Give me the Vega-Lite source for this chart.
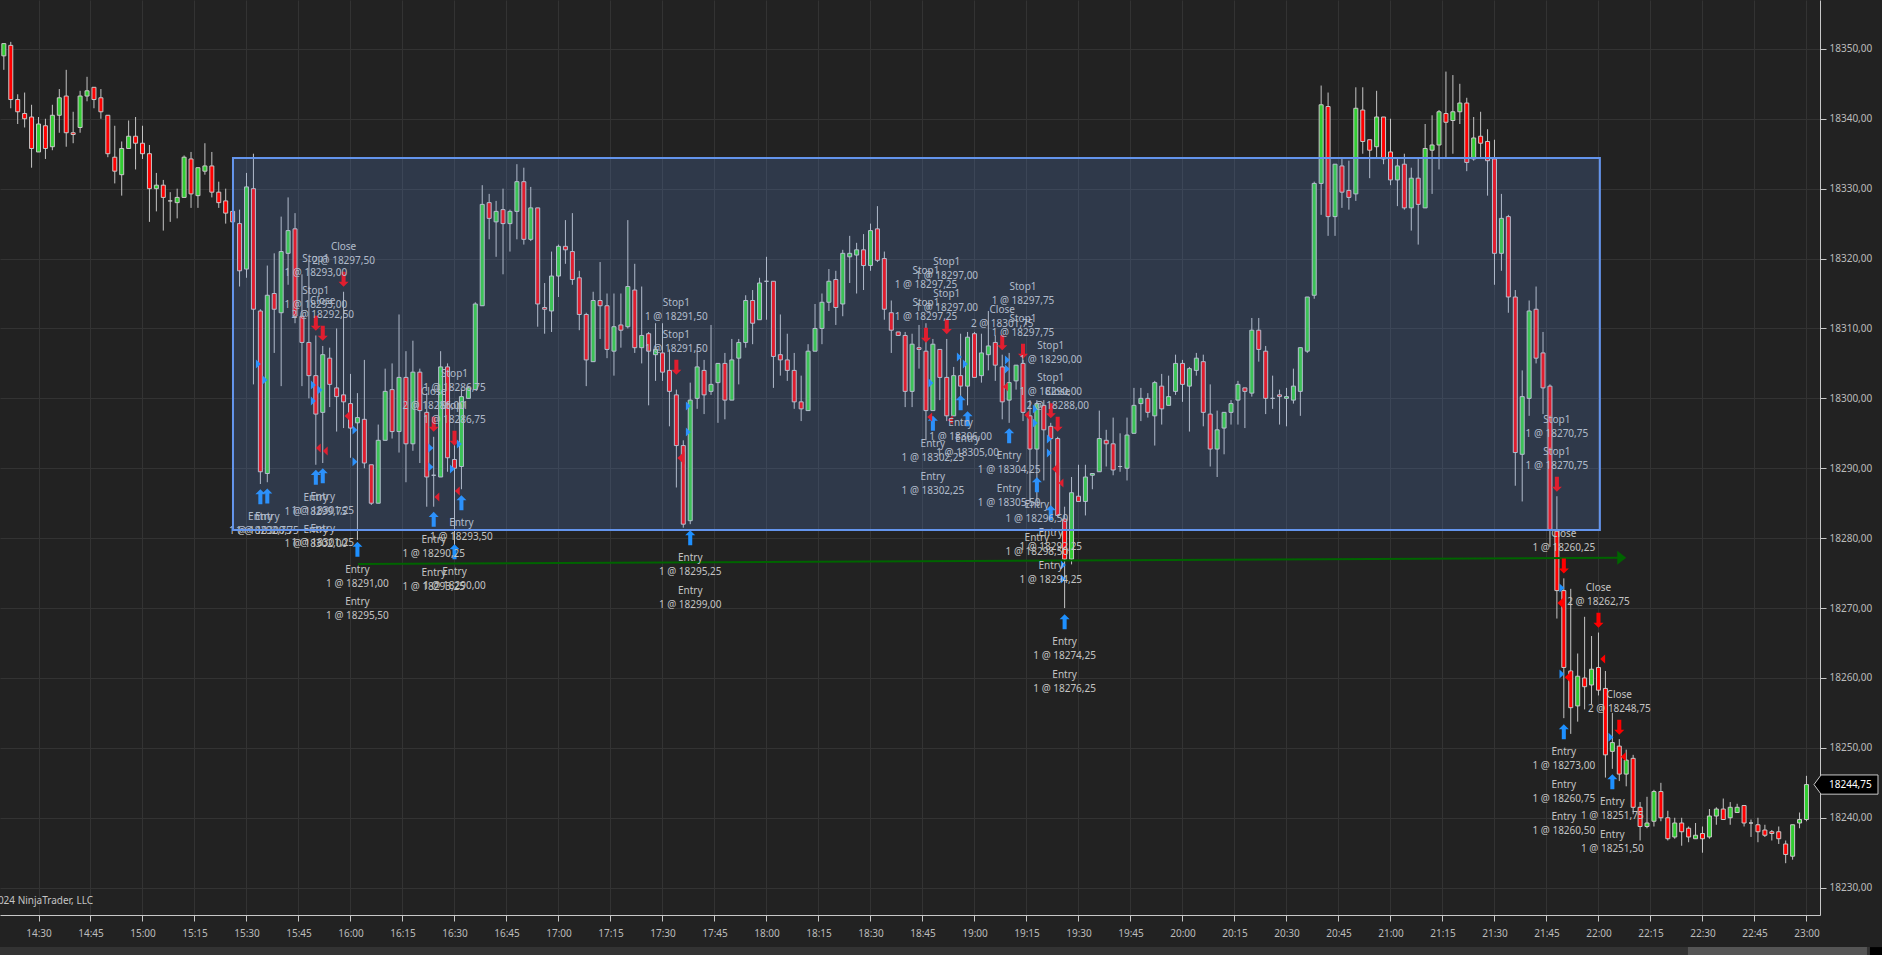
{"$schema":"https://vega.github.io/schema/vega-lite/v6.json","width":1820,"height":915,"autosize":{"type":"none"},"padding":{"left":0,"top":0,"right":62,"bottom":40},"background":"#222222","view":{"stroke":null},
"data":{"values":[
{"t":860,"o":18349,"h":18350.75,"l":18347,"c":18350.75},{"t":862,"o":18350.5,"h":18351,"l":18341.5,"c":18342.75},{"t":864,"o":18342.75,"h":18343.5,"l":18339.25,"c":18341},{"t":866,"o":18340.75,"h":18343.75,"l":18338.75,"c":18340},{"t":868,"o":18340.25,"h":18342,"l":18333,"c":18335.75},{"t":870,"o":18335.25,"h":18340.25,"l":18335.25,"c":18339.25},{"t":872,"o":18339,"h":18340,"l":18334.25,"c":18335.75},{"t":874,"o":18336,"h":18342,"l":18335.5,"c":18340.5},{"t":876,"o":18340.5,"h":18344.25,"l":18338,"c":18343},{"t":878,"o":18343.25,"h":18347,"l":18336,"c":18338},{"t":880,"o":18338,"h":18341,"l":18336.5,"c":18337.75},{"t":882,"o":18338.75,"h":18344,"l":18338,"c":18343.25},{"t":884,"o":18343.25,"h":18346,"l":18342.5,"c":18344},{"t":886,"o":18344.5,"h":18344.5,"l":18341.5,"c":18342.75},{"t":888,"o":18343,"h":18344.25,"l":18340,"c":18341},{"t":890,"o":18340.5,"h":18340.5,"l":18334.5,"c":18335},{"t":892,"o":18334.5,"h":18339,"l":18330.75,"c":18332.5},{"t":894,"o":18332,"h":18336.75,"l":18329,"c":18335.75},{"t":896,"o":18335.75,"h":18339.75,"l":18335.75,"c":18337.5},{"t":898,"o":18337.5,"h":18340.25,"l":18332.75,"c":18336.5},{"t":900,"o":18336.5,"h":18339,"l":18334.25,"c":18335},{"t":902,"o":18335,"h":18336.25,"l":18325.25,"c":18330},{"t":904,"o":18330,"h":18332.25,"l":18326.75,"c":18330.5},{"t":906,"o":18330.5,"h":18331.25,"l":18324,"c":18328.75},{"t":908,"o":18328.25,"h":18329.5,"l":18325.25,"c":18328.25},{"t":910,"o":18328,"h":18330,"l":18325.75,"c":18328.75},{"t":912,"o":18328.75,"h":18334.75,"l":18328.75,"c":18334.5},{"t":914,"o":18334.25,"h":18335.25,"l":18327.25,"c":18329.25},{"t":916,"o":18329,"h":18333,"l":18327.25,"c":18333},{"t":918,"o":18332.5,"h":18336.5,"l":18332,"c":18333.25},{"t":920,"o":18333.25,"h":18335.25,"l":18328.75,"c":18329.5},{"t":922,"o":18329.5,"h":18331,"l":18327.25,"c":18328},{"t":924,"o":18328.25,"h":18330,"l":18325,"c":18326.5},{"t":926,"o":18326.75,"h":18326.75,"l":18325.25,"c":18325.25},{"t":928,"o":18325,"h":18327,"l":18316,"c":18318.25},{"t":930,"o":18318.5,"h":18332.25,"l":18317.25,"c":18330.25},
{"t":932,"o":18330,"h":18335,"l":18302,"c":18312.75},{"t":934,"o":18312.5,"h":18312.75,"l":18287.75,"c":18289.5},{"t":936,"o":18289.25,"h":18319,"l":18288,"c":18314.75},{"t":938,"o":18315,"h":18320.75,"l":18306.5,"c":18312.75},{"t":940,"o":18312.25,"h":18326,"l":18301.75,"c":18321},{"t":942,"o":18320.75,"h":18328.75,"l":18316.25,"c":18324},{"t":944,"o":18324.25,"h":18326.5,"l":18310.75,"c":18311.75},{"t":946,"o":18311.75,"h":18317.75,"l":18301.75,"c":18308},{"t":948,"o":18308,"h":18319.75,"l":18300,"c":18303.25},{"t":950,"o":18303.25,"h":18309,"l":18290.5,"c":18297.75},{"t":952,"o":18298,"h":18307.5,"l":18290.75,"c":18306.25},{"t":954,"o":18305.75,"h":18307.25,"l":18298.75,"c":18302},{"t":956,"o":18301.5,"h":18310,"l":18295.25,"c":18300.25},{"t":958,"o":18300.5,"h":18315.25,"l":18295.75,"c":18299.5},{"t":960,"o":18299.25,"h":18303.5,"l":18291.5,"c":18295.75},{"t":962,"o":18296.5,"h":18300.75,"l":18279.75,"c":18297.25},{"t":964,"o":18297,"h":18305.5,"l":18290,"c":18290.75},{"t":966,"o":18290.5,"h":18290.5,"l":18284.75,"c":18285},{"t":968,"o":18285,"h":18296.25,"l":18285,"c":18294},{"t":970,"o":18294,"h":18304.25,"l":18294,"c":18301},{"t":972,"o":18301.25,"h":18305,"l":18294.25,"c":18295.25},{"t":974,"o":18295.25,"h":18312,"l":18292.25,"c":18303},{"t":976,"o":18303,"h":18306.75,"l":18288,"c":18293.5},{"t":978,"o":18293.5,"h":18308.25,"l":18292.5,"c":18303.75},{"t":980,"o":18303.75,"h":18304.25,"l":18290.75,"c":18298.25},{"t":982,"o":18298,"h":18300.75,"l":18284.5,"c":18288.75},{"t":984,"o":18289,"h":18294.5,"l":18284.5,"c":18289},{"t":986,"o":18288.75,"h":18306.75,"l":18288.75,"c":18304.5},{"t":988,"o":18304.5,"h":18305,"l":18289.5,"c":18291.5},{"t":990,"o":18291.25,"h":18294.5,"l":18277.25,"c":18290},{"t":992,"o":18290.25,"h":18301.25,"l":18287,"c":18300.25},{"t":994,"o":18300,"h":18301.75,"l":18300,"c":18301.5},{"t":996,"o":18301.25,"h":18313.75,"l":18301.25,"c":18313.5},
{"t":998,"o":18313.25,"h":18330.5,"l":18313.25,"c":18327.75},{"t":1000,"o":18328,"h":18329.25,"l":18322.75,"c":18325.75},{"t":1002,"o":18325.25,"h":18328.25,"l":18320.25,"c":18326.75},{"t":1004,"o":18327,"h":18330,"l":18317.75,"c":18325},{"t":1006,"o":18325,"h":18327,"l":18321,"c":18326.75},{"t":1008,"o":18326.75,"h":18333.5,"l":18322.75,"c":18331},{"t":1010,"o":18331,"h":18333,"l":18322,"c":18322.75},{"t":1012,"o":18322.75,"h":18330.25,"l":18322.5,"c":18327.25},{"t":1014,"o":18327.25,"h":18327.25,"l":18310.25,"c":18313.5},{"t":1016,"o":18313,"h":18316.5,"l":18309.25,"c":18312.75},{"t":1018,"o":18312.5,"h":18321,"l":18309.5,"c":18317.5},{"t":1020,"o":18317.5,"h":18322,"l":18314.5,"c":18321.75},{"t":1022,"o":18321.75,"h":18325.5,"l":18319.25,"c":18321.25},{"t":1024,"o":18321,"h":18326.5,"l":18316.25,"c":18317},{"t":1026,"o":18317.25,"h":18318.25,"l":18309.75,"c":18312},{"t":1028,"o":18312,"h":18312.25,"l":18301.75,"c":18305.5},{"t":1030,"o":18305.25,"h":18315.25,"l":18305.25,"c":18314},{"t":1032,"o":18314,"h":18319.5,"l":18308.5,"c":18313.25},{"t":1034,"o":18313.25,"h":18315,"l":18305.75,"c":18307},{"t":1036,"o":18306.75,"h":18315,"l":18303.25,"c":18310.25},{"t":1038,"o":18310.5,"h":18315,"l":18307.25,"c":18309.75},{"t":1040,"o":18310.25,"h":18325.5,"l":18310,"c":18316},{"t":1042,"o":18315.5,"h":18319.25,"l":18306.5,"c":18307.25},{"t":1044,"o":18307.25,"h":18316,"l":18305,"c":18309},{"t":1046,"o":18309.25,"h":18309.5,"l":18299,"c":18306.75},{"t":1048,"o":18306.25,"h":18310.75,"l":18302.5,"c":18307},{"t":1050,"o":18306.5,"h":18310.75,"l":18302.5,"c":18303.75},{"t":1052,"o":18304,"h":18307,"l":18296,"c":18301},{"t":1054,"o":18300.5,"h":18301.25,"l":18287.25,"c":18293.25},
{"t":1056,"o":18293.25,"h":18294,"l":18281.5,"c":18282},{"t":1058,"o":18282.5,"h":18302.25,"l":18282,"c":18299.75},{"t":1060,"o":18300,"h":18307.75,"l":18298.5,"c":18304.5},{"t":1062,"o":18304,"h":18305.5,"l":18297.75,"c":18300.5},{"t":1064,"o":18301,"h":18310.5,"l":18300.5,"c":18302},{"t":1066,"o":18302.25,"h":18305,"l":18296.5,"c":18305},{"t":1068,"o":18305,"h":18306.5,"l":18297,"c":18299.75},{"t":1070,"o":18299.75,"h":18308.5,"l":18299.75,"c":18305.5},{"t":1072,"o":18305.75,"h":18308.5,"l":18302,"c":18308},{"t":1074,"o":18308,"h":18314.75,"l":18307.25,"c":18314},{"t":1076,"o":18314,"h":18315.5,"l":18307.75,"c":18310.75},{"t":1078,"o":18311.25,"h":18317.25,"l":18311.25,"c":18316.5},{"t":1080,"o":18316.75,"h":18320.25,"l":18311.25,"c":18316.75},{"t":1082,"o":18316.75,"h":18316.75,"l":18301.5,"c":18306},{"t":1084,"o":18306.25,"h":18312,"l":18303.25,"c":18305.5},{"t":1086,"o":18305.5,"h":18309.25,"l":18302.5,"c":18304},{"t":1088,"o":18304,"h":18306.5,"l":18298.5,"c":18299.5},{"t":1090,"o":18299.5,"h":18303.25,"l":18296.75,"c":18298.5},{"t":1092,"o":18298.25,"h":18307.75,"l":18298.25,"c":18306.75},{"t":1094,"o":18306.75,"h":18313.5,"l":18306.75,"c":18310},{"t":1096,"o":18310,"h":18315,"l":18307.75,"c":18313.75},{"t":1098,"o":18313.75,"h":18318.5,"l":18312.5,"c":18316.75},{"t":1100,"o":18317,"h":18318.25,"l":18310.5,"c":18313},{"t":1102,"o":18313.5,"h":18321.25,"l":18311.75,"c":18320.75},{"t":1104,"o":18320.25,"h":18323.25,"l":18316.5,"c":18320.75},{"t":1106,"o":18320.5,"h":18322.25,"l":18315,"c":18321.25},{"t":1108,"o":18321.25,"h":18323.5,"l":18315.5,"c":18319},{"t":1110,"o":18319,"h":18325,"l":18318.25,"c":18324},{"t":1112,"o":18324.25,"h":18327.5,"l":18319.5,"c":18319.75},{"t":1114,"o":18320,"h":18321,"l":18311.25,"c":18312.75},{"t":1116,"o":18312.25,"h":18314,"l":18306.5,"c":18309.75},{"t":1118,"o":18309.5,"h":18309.5,"l":18309,"c":18309},{"t":1120,"o":18309,"h":18309.5,"l":18298.75,"c":18301},{"t":1122,"o":18301,"h":18309.25,"l":18298.75,"c":18307.75},{"t":1124,"o":18307.25,"h":18310.5,"l":18304.25,"c":18307},{"t":1126,"o":18306.75,"h":18310.75,"l":18294,"c":18298.25},{"t":1128,"o":18298.25,"h":18308.5,"l":18298.25,"c":18307.75},{"t":1130,"o":18307,"h":18307,"l":18299.75,"c":18303},{"t":1132,"o":18303,"h":18308.5,"l":18296.75,"c":18297.5},{"t":1134,"o":18297.5,"h":18304.5,"l":18297.5,"c":18303.25},{"t":1136,"o":18303.25,"h":18309.25,"l":18299.75,"c":18301.75},{"t":1138,"o":18301.75,"h":18309.5,"l":18299,"c":18308.75},{"t":1140,"o":18309.25,"h":18309.5,"l":18303,"c":18303},{"t":1142,"o":18303.25,"h":18309.25,"l":18302.25,"c":18306.5},{"t":1144,"o":18306.25,"h":18312.5,"l":18304,"c":18307.5},{"t":1146,"o":18308,"h":18309,"l":18302.5,"c":18304.75},{"t":1148,"o":18304.5,"h":18306.25,"l":18297,"c":18299.5},{"t":1150,"o":18299.75,"h":18306.5,"l":18296.5,"c":18302.25},{"t":1152,"o":18302.5,"h":18304.75,"l":18301.25,"c":18304.75},{"t":1154,"o":18305,"h":18305.5,"l":18296.75,"c":18298},{"t":1156,"o":18297.5,"h":18299.75,"l":18285,"c":18292.75},{"t":1158,"o":18292.75,"h":18299.75,"l":18285.25,"c":18299.25},{"t":1160,"o":18299,"h":18299.75,"l":18288.25,"c":18295.5},{"t":1162,"o":18296,"h":18296.5,"l":18284.25,"c":18294.25},{"t":1164,"o":18294.25,"h":18294.5,"l":18283,"c":18283.25},{"t":1166,"o":18282.75,"h":18284.5,"l":18270,"c":18277},{"t":1168,"o":18277,"h":18288.75,"l":18276.25,"c":18286.5},{"t":1170,"o":18286,"h":18290.5,"l":18285.25,"c":18285.25},{"t":1172,"o":18285.25,"h":18290.5,"l":18283.25,"c":18288.75},{"t":1174,"o":18289,"h":18289.25,"l":18287,"c":18289.25},{"t":1176,"o":18289.5,"h":18298.25,"l":18289.5,"c":18294.25},{"t":1178,"o":18294,"h":18295.5,"l":18290.25,"c":18293.5},{"t":1180,"o":18293.5,"h":18297.25,"l":18289,"c":18289.75},{"t":1182,"o":18290.25,"h":18295,"l":18289.5,"c":18290.25},{"t":1184,"o":18290,"h":18297.25,"l":18288.25,"c":18294.75},{"t":1186,"o":18295,"h":18301.5,"l":18295,"c":18299},{"t":1188,"o":18299.25,"h":18301.5,"l":18296.75,"c":18300},{"t":1190,"o":18300,"h":18300.75,"l":18297.25,"c":18298},{"t":1192,"o":18297.5,"h":18302.5,"l":18293.25,"c":18302.25},
{"t":1194,"o":18301.75,"h":18303.5,"l":18296.25,"c":18298.5},{"t":1196,"o":18299,"h":18303.25,"l":18299,"c":18300.25},{"t":1198,"o":18301,"h":18306.25,"l":18300.5,"c":18305},{"t":1200,"o":18305,"h":18305.5,"l":18299.5,"c":18302},{"t":1202,"o":18301.75,"h":18304.5,"l":18295.25,"c":18304.25},{"t":1204,"o":18304,"h":18306.5,"l":18303.25,"c":18305.75},{"t":1206,"o":18305.25,"h":18306.25,"l":18296,"c":18298},{"t":1208,"o":18297.75,"h":18302,"l":18290.25,"c":18292.75},{"t":1210,"o":18292.75,"h":18298.25,"l":18288.75,"c":18295.5},{"t":1212,"o":18295.75,"h":18298,"l":18292,"c":18298},{"t":1214,"o":18298,"h":18299.75,"l":18296.25,"c":18299.25},{"t":1216,"o":18299.75,"h":18302.5,"l":18296.25,"c":18302},{"t":1218,"o":18301.5,"h":18301.5,"l":18295.75,"c":18301},{"t":1220,"o":18300.75,"h":18311.5,"l":18300.25,"c":18309.75},{"t":1222,"o":18309.75,"h":18311.5,"l":18305.25,"c":18307},{"t":1224,"o":18306.75,"h":18307.5,"l":18297.75,"c":18300},{"t":1226,"o":18300,"h":18303.25,"l":18298.5,"c":18300},{"t":1228,"o":18300.5,"h":18301.25,"l":18296.25,"c":18300.25},{"t":1230,"o":18300,"h":18301.5,"l":18296,"c":18300.25},{"t":1232,"o":18299.75,"h":18304.25,"l":18299.25,"c":18301.75},{"t":1234,"o":18301,"h":18307.25,"l":18297.5,"c":18307.25},{"t":1236,"o":18306.75,"h":18314.5,"l":18306.5,"c":18314.5},{"t":1238,"o":18314.75,"h":18331,"l":18314.25,"c":18330.75},{"t":1240,"o":18330.75,"h":18344.75,"l":18326.25,"c":18342},{"t":1242,"o":18341.75,"h":18343.75,"l":18323.25,"c":18326},{"t":1244,"o":18326,"h":18333.5,"l":18323.25,"c":18333.5},{"t":1246,"o":18333.25,"h":18334.25,"l":18327.25,"c":18329.5},{"t":1248,"o":18329.75,"h":18334,"l":18327,"c":18328.75},{"t":1250,"o":18329.25,"h":18344.5,"l":18328.25,"c":18341.5},{"t":1252,"o":18341.25,"h":18344.5,"l":18335,"c":18336.75},{"t":1254,"o":18337,"h":18337,"l":18331.5,"c":18335.5},{"t":1256,"o":18336,"h":18344,"l":18334.5,"c":18340.25},{"t":1258,"o":18340.25,"h":18340.25,"l":18333.5,"c":18334.25},{"t":1260,"o":18335.25,"h":18340,"l":18330.5,"c":18331.25},{"t":1262,"o":18331.25,"h":18334.25,"l":18327.5,"c":18333.25},{"t":1264,"o":18333.5,"h":18335,"l":18327,"c":18327.25},{"t":1266,"o":18327.25,"h":18333,"l":18324,"c":18331.5},{"t":1268,"o":18331.5,"h":18334.25,"l":18322,"c":18327.75},{"t":1270,"o":18327.25,"h":18339.25,"l":18327.25,"c":18335.75},{"t":1272,"o":18335.5,"h":18340.5,"l":18329.25,"c":18336.25},{"t":1274,"o":18336.25,"h":18341.25,"l":18332.75,"c":18341},{"t":1276,"o":18340.75,"h":18346.75,"l":18334.25,"c":18339.5},{"t":1278,"o":18339.75,"h":18346.25,"l":18335,"c":18341},{"t":1280,"o":18341,"h":18345,"l":18339.25,"c":18342.25},{"t":1282,"o":18342.25,"h":18343,"l":18332.5,"c":18333.75},{"t":1284,"o":18334.25,"h":18340.25,"l":18334,"c":18337.25},{"t":1286,"o":18337.5,"h":18341,"l":18334.25,"c":18336.5},{"t":1288,"o":18336.75,"h":18338.5,"l":18329,"c":18334},{"t":1290,"o":18334.25,"h":18337,"l":18316.25,"c":18320.75},{"t":1292,"o":18320.75,"h":18329.25,"l":18318.25,"c":18325.75},{"t":1294,"o":18326,"h":18326.25,"l":18312.25,"c":18314.5},{"t":1296,"o":18314.5,"h":18315.5,"l":18287.5,"c":18292.25},{"t":1298,"o":18292,"h":18304,"l":18285.25,"c":18300.25},{"t":1300,"o":18300,"h":18314,"l":18297.5,"c":18312.5},{"t":1302,"o":18312.75,"h":18316,"l":18305,"c":18305.75},{"t":1304,"o":18306.5,"h":18309.5,"l":18297.75,"c":18301.5},{"t":1306,"o":18301.75,"h":18302,"l":18278.75,"c":18281.25},
{"t":1308,"o":18281,"h":18286,"l":18268.5,"c":18272.5},{"t":1310,"o":18272.5,"h":18274.25,"l":18254.25,"c":18261.5},{"t":1312,"o":18261,"h":18272.75,"l":18252,"c":18255.75},{"t":1314,"o":18256,"h":18263.5,"l":18253.75,"c":18260.25},{"t":1316,"o":18260,"h":18268.75,"l":18255.5,"c":18258.75},{"t":1318,"o":18259,"h":18266,"l":18256.25,"c":18261.25},{"t":1320,"o":18261.5,"h":18266.5,"l":18257.5,"c":18258.25},{"t":1322,"o":18258.5,"h":18261,"l":18245.75,"c":18249},{"t":1324,"o":18249.5,"h":18255,"l":18247,"c":18250.75},{"t":1326,"o":18250.25,"h":18251.25,"l":18245.25,"c":18246.25},{"t":1328,"o":18246.25,"h":18249.75,"l":18244.5,"c":18248.25},{"t":1330,"o":18248.5,"h":18249,"l":18240.5,"c":18241.5},{"t":1332,"o":18241.5,"h":18242.25,"l":18236.75,"c":18238.75},{"t":1334,"o":18238.75,"h":18243,"l":18238.5,"c":18239.25},{"t":1336,"o":18239.5,"h":18244,"l":18238.75,"c":18243.75},{"t":1338,"o":18243.75,"h":18245,"l":18239.5,"c":18240},{"t":1340,"o":18240,"h":18241,"l":18236.75,"c":18237},{"t":1342,"o":18237.25,"h":18240,"l":18237,"c":18239.25},{"t":1344,"o":18239.25,"h":18240,"l":18236,"c":18238},{"t":1346,"o":18238.5,"h":18238.75,"l":18236.5,"c":18237.25},{"t":1348,"o":18237,"h":18239.25,"l":18237,"c":18237.5},{"t":1350,"o":18237.75,"h":18238.75,"l":18235,"c":18237},{"t":1352,"o":18237.25,"h":18241.25,"l":18237,"c":18240.25},{"t":1354,"o":18240.25,"h":18241.5,"l":18239,"c":18241.25},{"t":1356,"o":18241.25,"h":18242.75,"l":18239.75,"c":18239.75},{"t":1358,"o":18240,"h":18242.25,"l":18239,"c":18241.5},{"t":1360,"o":18240.75,"h":18242,"l":18240.75,"c":18241.5},{"t":1362,"o":18241.75,"h":18241.75,"l":18238.75,"c":18239.25},{"t":1364,"o":18239.25,"h":18239.75,"l":18237.25,"c":18239.25},{"t":1366,"o":18239,"h":18240,"l":18236.5,"c":18238},{"t":1368,"o":18238.25,"h":18239,"l":18237.25,"c":18237.5},{"t":1370,"o":18238,"h":18238.25,"l":18236.75,"c":18237.75},{"t":1372,"o":18238,"h":18238.75,"l":18236.25,"c":18237},{"t":1374,"o":18236.25,"h":18236.75,"l":18233.5,"c":18234.75},{"t":1376,"o":18234.5,"h":18239,"l":18234,"c":18239},{"t":1378,"o":18239.25,"h":18240.75,"l":18238.5,"c":18239.75},{"t":1380,"o":18239.75,"h":18246,"l":18239.5,"c":18244.75}
]},
"layer":[
{"mark":{"type":"rule","color":"#c4c4c4","strokeWidth":1},"encoding":{
"x":{"field":"t","type":"quantitative","title":null,"scale":{"domain":[858.894,1383.9],"zero":false,"nice":false,"padding":0},"axis":{"values":[870,885,900,915,930,945,960,975,990,1005,1020,1035,1050,1065,1080,1095,1110,1125,1140,1155,1170,1185,1200,1215,1230,1245,1260,1275,1290,1305,1320,1335,1350,1365,1380],"labelExpr":"format(floor(datum.value/60),'02d')+':'+format(datum.value%60,'02d')","grid":true,"gridColor":"#333333","domainColor":"#c8c8c8","tickColor":"#c8c8c8","tickSize":6,"labelColor":"#bcbcbc","labelFont":"Noto Sans","labelFontSize":10,"labelPadding":7,"labelOverlap":false,"labelFlush":false}},
"y":{"field":"l","type":"quantitative","title":null,"scale":{"domain":[18226.09,18356.99],"zero":false,"nice":false},"axis":{"orient":"right","values":[18230,18240,18250,18260,18270,18280,18290,18300,18310,18320,18330,18340,18350],"labelExpr":"replace(format(datum.value,'.2f'),'.',',')","grid":true,"gridColor":"#333333","domainColor":"#c8c8c8","tickColor":"#c8c8c8","tickSize":6,"labelColor":"#bcbcbc","labelFont":"Noto Sans","labelFontSize":10,"labelPadding":3}},
"y2":{"field":"h"}}},
{"mark":{"type":"bar","size":4,"stroke":"#c8c8c8","strokeWidth":1},"encoding":{
"x":{"field":"t","type":"quantitative","title":null},
"y":{"field":"o","type":"quantitative","title":null},"y2":{"field":"c"},
"color":{"condition":{"test":"datum.c>=datum.o","value":"#32CD32"},"value":"#FF0000"}}},
{"data":{"values":[{"t":962.2,"p":18276.31},{"t":1325.6,"p":18277.21}]},"mark":{"type":"line","color":"#006400","strokeWidth":2},"encoding":{"x":{"field":"t","type":"quantitative","title":null},"y":{"field":"p","type":"quantitative","title":null}}},
{"data":{"values":[{"t":1326.7,"p":18277.21}]},"mark":{"type":"point","filled":true,"opacity":1,"color":"#006400","size":196,"shape":"M-0.64,-1L0.64,0L-0.64,1Z"},"encoding":{"x":{"field":"t","type":"quantitative","title":null},"y":{"field":"p","type":"quantitative","title":null}}},
{"data":{"values":[
{"t":934,"p":18285.94},{"t":936,"p":18286.03},{"t":950,"p":18288.7},{"t":952,"p":18288.94},{"t":962,"p":18278.4},{"t":984,"p":18282.69},{"t":992,"p":18285.08},{"t":990,"p":18278.07},{"t":1058,"p":18280.07},{"t":1128,"p":18296.43},{"t":1136,"p":18299.38},{"t":1138,"p":18297.1},{"t":1150,"p":18294.66},{"t":1158,"p":18287.65},{"t":1162,"p":18283.65},{"t":1166,"p":18268.05},{"t":1310,"p":18252.32},{"t":1324,"p":18245.17}
]},"mark":{"type":"point","filled":true,"opacity":1,"color":"#1E90FF","size":225,"shape":"M0,-1L0.67,-0.33L0.27,-0.33L0.27,1L-0.27,1L-0.27,-0.33L-0.67,-0.33Z"},"encoding":{"x":{"field":"t","type":"quantitative","title":null},"y":{"field":"p","type":"quantitative","title":null}}},
{"data":{"values":[
{"t":958,"p":18317.03},{"t":950,"p":18310.74},{"t":952,"p":18309.31},{"t":984,"p":18296.29},{"t":990,"p":18294.28},{"t":1054,"p":18304.44},{"t":1126,"p":18309.02},{"t":1132,"p":18310.26},{"t":1148,"p":18307.97},{"t":1154,"p":18306.73},{"t":1162,"p":18298.24},{"t":1164,"p":18296.28},{"t":1308,"p":18287.7},{"t":1310,"p":18276.02},{"t":1320,"p":18268.25},{"t":1326,"p":18252.94}
]},"mark":{"type":"point","filled":true,"opacity":1,"color":"#FF0000","size":225,"shape":"M0,1L0.67,0.33L0.27,0.33L0.27,-1L-0.27,-1L-0.27,0.33L-0.67,0.33Z"},"encoding":{"x":{"field":"t","type":"quantitative","title":null},"y":{"field":"p","type":"quantitative","title":null}}},
{"data":{"values":[
{"t":933.42,"p":18304.92},{"t":935.34,"p":18302.63},{"t":949.28,"p":18301.91},{"t":951.2,"p":18301.2},{"t":949.28,"p":18299.62},{"t":961.3,"p":18295.48},{"t":961.3,"p":18290.94},{"t":983.2,"p":18292.9},{"t":983.2,"p":18290.18},{"t":989.4,"p":18289.9},{"t":991.4,"p":18293.47},{"t":1057.45,"p":18298.91},{"t":1057.45,"p":18295.19},{"t":1127.45,"p":18302.2},{"t":1135.63,"p":18305.92},{"t":1137.36,"p":18304.92},{"t":1149.5,"p":18305.49},{"t":1149.5,"p":18304.2},{"t":1157.55,"p":18298.48},{"t":1157.55,"p":18296.48},{"t":1161.6,"p":18294.19},{"t":1161.6,"p":18292.18},{"t":1165.63,"p":18276.16},{"t":1165.63,"p":18274.16},{"t":1309.46,"p":18272.87},{"t":1309.46,"p":18260.57},{"t":1323.6,"p":18251.51}
]},"mark":{"type":"point","filled":true,"opacity":1,"color":"#1E90FF","size":81,"shape":"M-0.55,-1L0.55,0L-0.55,1Z"},"encoding":{"x":{"field":"t","type":"quantitative","title":null},"y":{"field":"p","type":"quantitative","title":null}}},
{"data":{"values":[
{"t":950.7,"p":18292.9,"q":1},{"t":952.7,"p":18292.47,"q":1},{"t":959.3,"p":18297.48,"q":2},{"t":984.9,"p":18285.89,"q":1},{"t":990.8,"p":18286.75,"q":1},{"t":1055.3,"p":18291.47,"q":2},{"t":1127.07,"p":18297.33,"q":1},{"t":1133,"p":18296.9,"q":1},{"t":1148.9,"p":18301.67,"q":1},{"t":1155.05,"p":18297.62,"q":1},{"t":1163.4,"p":18289.89,"q":2},{"t":1164.95,"p":18287.89,"q":1},{"t":1309.18,"p":18270.73,"q":2},{"t":1311.29,"p":18260.09,"q":2},{"t":1321.2,"p":18262.71,"q":1},{"t":1327.16,"p":18248.74,"q":1}
]},"mark":{"type":"point","filled":true,"opacity":1,"color":"#FF0000","shape":"M0.55,-1L-0.55,0L0.55,1Z"},"encoding":{"x":{"field":"t","type":"quantitative","title":null},"y":{"field":"p","type":"quantitative","title":null},"size":{"condition":{"test":"datum.q==2","value":169},"value":81}}},
{"data":{"values":[
{"t":958,"p":18320.8,"s":"Close\n2 @ 18297,50"},{"t":950,"p":18319.03,"s":"Stop1\n1 @ 18293,00"},{"t":950,"p":18314.5,"s":"Stop1\n1 @ 18293,00"},{"t":952,"p":18313.05,"s":"Close\n2 @ 18292,50"},{"t":934,"p":18282.17,"s":"Entry\n1 @ 18292,75"},{"t":936,"p":18282.17,"s":"Entry\n1 @ 18300,75"},{"t":950,"p":18284.89,"s":"Entry\n1 @ 18299,75"},{"t":952,"p":18285.08,"s":"Entry\n1 @ 18301,25"},{"t":950,"p":18280.31,"s":"Entry\n1 @ 18302,00"},{"t":952,"p":18280.41,"s":"Entry\n1 @ 18301,25"},{"t":962,"p":18274.59,"s":"Entry\n1 @ 18291,00"},{"t":962,"p":18270.01,"s":"Entry\n1 @ 18295,50"},{"t":984,"p":18278.88,"s":"Entry\n1 @ 18290,25"},{"t":992,"p":18281.31,"s":"Entry\n1 @ 18293,50"},{"t":984,"p":18274.21,"s":"Entry\n1 @ 18293,25"},{"t":990,"p":18274.25,"s":"Entry\n1 @ 18290,00"},{"t":990,"p":18302.63,"s":"Stop1\n1 @ 18286,75"},{"t":984,"p":18300.05,"s":"Close\n2 @ 18286,00"},{"t":990,"p":18298.05,"s":"Stop1\n1 @ 18286,75"},{"t":1054,"p":18312.74,"s":"Stop1\n1 @ 18291,50"},{"t":1054,"p":18308.16,"s":"Stop1\n1 @ 18291,50"},{"t":1058,"p":18276.3,"s":"Entry\n1 @ 18295,25"},{"t":1058,"p":18271.63,"s":"Entry\n1 @ 18299,00"},
{"t":1126,"p":18317.32,"s":"Stop1\n1 @ 18297,25"},{"t":1132,"p":18318.6,"s":"Stop1\n1 @ 18297,00"},{"t":1132,"p":18314.03,"s":"Stop1\n1 @ 18297,00"},{"t":1126,"p":18312.79,"s":"Stop1\n1 @ 18297,25"},{"t":1154,"p":18315.03,"s":"Stop1\n1 @ 18297,75"},{"t":1154,"p":18310.45,"s":"Stop1\n1 @ 18297,75"},{"t":1148,"p":18311.74,"s":"Close\n2 @ 18301,75"},{"t":1162,"p":18306.59,"s":"Stop1\n1 @ 18290,00"},{"t":1162,"p":18302.01,"s":"Stop1\n1 @ 18290,00"},{"t":1164,"p":18300.05,"s":"Close\n2 @ 18288,00"},{"t":1136,"p":18295.62,"s":"Entry\n1 @ 18306,00"},{"t":1138,"p":18293.33,"s":"Entry\n1 @ 18305,00"},{"t":1128,"p":18292.57,"s":"Entry\n1 @ 18302,25"},{"t":1128,"p":18287.94,"s":"Entry\n1 @ 18302,25"},{"t":1150,"p":18290.85,"s":"Entry\n1 @ 18304,25"},{"t":1150,"p":18286.22,"s":"Entry\n1 @ 18305,50"},{"t":1158,"p":18283.84,"s":"Entry\n1 @ 18296,50"},{"t":1158,"p":18279.21,"s":"Entry\n1 @ 18298,50"},{"t":1162,"p":18279.83,"s":"Entry\n1 @ 18292,25"},{"t":1162,"p":18275.21,"s":"Entry\n1 @ 18294,25"},{"t":1166,"p":18264.22,"s":"Entry\n1 @ 18274,25"},{"t":1166,"p":18259.57,"s":"Entry\n1 @ 18276,25"},
{"t":1308,"p":18296.03,"s":"Stop1\n1 @ 18270,75"},{"t":1308,"p":18291.45,"s":"Stop1\n1 @ 18270,75"},{"t":1310,"p":18279.74,"s":"Close\n1 @ 18260,25"},{"t":1320,"p":18271.97,"s":"Close\n2 @ 18262,75"},{"t":1326,"p":18256.66,"s":"Close\n2 @ 18248,75"},{"t":1310,"p":18248.5,"s":"Entry\n1 @ 18273,00"},{"t":1310,"p":18243.88,"s":"Entry\n1 @ 18260,75"},{"t":1310,"p":18239.2,"s":"Entry\n1 @ 18260,50"},{"t":1324,"p":18241.35,"s":"Entry\n1 @ 18251,75"},{"t":1324,"p":18236.72,"s":"Entry\n1 @ 18251,50"}
]},"mark":{"type":"text","font":"Noto Sans","fontSize":10,"color":"#c4c4c4","align":"center","baseline":"middle","lineBreak":"\n","lineHeight":14,"dy":-6},"encoding":{"x":{"field":"t","type":"quantitative","title":null},"y":{"field":"p","type":"quantitative","title":null},"text":{"field":"s"}}},
{"data":{"values":[{"t":926.1,"t2":1320.4,"p":18334.39,"p2":18281.17}]},"mark":{"type":"rect","fill":"#6495ED","fillOpacity":0.2,"stroke":"#6495ED","strokeOpacity":1,"strokeWidth":2},"encoding":{"x":{"field":"t","type":"quantitative","title":null},"x2":{"field":"t2"},"y":{"field":"p","type":"quantitative","title":null},"y2":{"field":"p2"}}},
{"data":{"values":[{"t":885.72,"p":18228.1,"s":"© 2024 NinjaTrader, LLC"}]},"mark":{"type":"text","font":"Noto Sans","fontSize":10,"color":"#c4c4c4","align":"right","baseline":"middle"},"encoding":{"x":{"field":"t","type":"quantitative","title":null},"y":{"field":"p","type":"quantitative","title":null},"text":{"field":"s"}}},
{"data":{"values":[{"t":1391.4,"p":18244.75}]},"mark":{"type":"point","filled":true,"opacity":1,"fill":"#000000","stroke":"#c8c8c8","strokeWidth":1,"size":4096,"shape":"M-1,0L-0.78,-0.3L1,-0.3L1,0.3L-0.78,0.3Z"},"encoding":{"x":{"field":"t","type":"quantitative","title":null},"y":{"field":"p","type":"quantitative","title":null}}},
{"data":{"values":[{"t":1386.5,"p":18244.75,"s":"18244,75"}]},"mark":{"type":"text","font":"Noto Sans","fontSize":10,"color":"#ffffff","align":"left","baseline":"middle"},"encoding":{"x":{"field":"t","type":"quantitative","title":null},"y":{"field":"p","type":"quantitative","title":null},"text":{"field":"s"}}},
{"data":{"values":[{"t":858.894,"t2":1401.8,"p":18221.5,"p2":18220.3,"k":"track"},{"t":1345.8,"t2":1397.45,"p":18221.5,"p2":18220.3,"k":"thumb"},{"t":1398.3,"t2":1401.8,"p":18221.5,"p2":18220.3,"k":"button"}]},"mark":{"type":"rect"},"encoding":{"x":{"field":"t","type":"quantitative","title":null},"x2":{"field":"t2"},"y":{"field":"p","type":"quantitative","title":null},"y2":{"field":"p2"},"color":{"field":"k","type":"nominal","legend":null,"scale":{"domain":["track","thumb","button"],"range":["#333333","#555555","#000000"]}}}}
]}
